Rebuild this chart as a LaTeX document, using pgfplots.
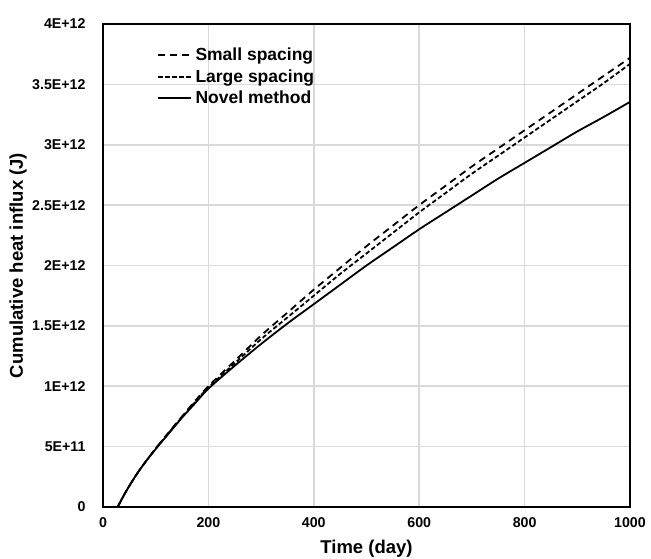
\documentclass[border=0pt]{standalone}
\usepackage{pgfplots}
\pgfplotsset{compat=1.18}
\usepackage{fontspec}
\setmainfont{Liberation Sans}

\definecolor{gridgray}{RGB}{217,217,217}

\begin{document}
\begin{tikzpicture}[x=1pt,y=1pt]
\path[use as bounding box] (0,0) rectangle (651,559);
\begin{axis}[
  at={(103pt,52pt)}, anchor=south west,
  scale only axis, width=527pt, height=483pt,
  xmin=0, xmax=1000, ymin=0, ymax=4e12,
  xtick={0,200,400,600,800,1000},
  xticklabels={0,200,400,600,800,1000},
  ytick={0,0.5e12,1e12,1.5e12,2e12,2.5e12,3e12,3.5e12,4e12},
  yticklabels={0,5E+11,1E+12,1.5E+12,2E+12,2.5E+12,3E+12,3.5E+12,4E+12},
  scaled ticks=false,
  major tick length=0pt,
  xmajorgrids, ymajorgrids,
  grid style={gridgray, line width=1.6pt},
  axis line style={black, line width=1.8pt},
  ticklabel style={font=\bfseries\fontsize{14.2}{16}\selectfont},
  xticklabel style={yshift=-7pt},
  yticklabel style={xshift=-14pt},
  xlabel={\bfseries Time (day)},
  ylabel={\bfseries Cumulative heat influx (J)},
  label style={font=\bfseries\fontsize{18.5}{20}\selectfont},
  xlabel style={at={(axis description cs:0.5,-0.087)}, anchor=center},
  ylabel style={at={(axis description cs:-0.161,0.5)}, anchor=center},
  legend cell align=left,
  legend style={draw=none, fill=none, at={(0.1025,0.951)}, anchor=north west,
    font=\bfseries\fontsize{17.5}{19}\selectfont, row sep=7.5pt,
    inner sep=0pt, nodes={inner sep=0pt, outer sep=0pt}},
  legend image code/.code={\draw[#1] (0pt,0pt) -- (33pt,0pt); \path (36.5pt,0pt);},
  every axis plot/.append style={black, line width=1.8pt, smooth},
]
% small grid spacing
\addplot[dash pattern=on 7pt off 5pt] coordinates {
(28,0) (32,0.035e12) (40,0.10e12) (50,0.175e12) (60,0.245e12) (70,0.31e12)
(80,0.37e12) (100,0.485e12) (125,0.62e12) (150,0.75e12) (175,0.88e12)
(200,1.00e12) (250,1.21e12) (300,1.42e12) (350,1.61e12) (400,1.80e12)
(450,1.98e12) (500,2.16e12) (550,2.33e12) (600,2.50e12) (650,2.66e12)
(700,2.82e12) (750,2.97e12) (800,3.12e12) (850,3.27e12) (900,3.42e12)
(950,3.57e12) (1000,3.72e12)
};
\addlegendentry{Small spacing}
% large grid spacing
\addplot[dash pattern=on 4.5pt off 2.5pt] coordinates {
(28,0) (32,0.035e12) (40,0.10e12) (50,0.175e12) (60,0.245e12) (70,0.31e12)
(80,0.37e12) (100,0.483e12) (125,0.615e12) (150,0.745e12) (175,0.87e12)
(200,0.99e12) (250,1.19e12) (300,1.39e12) (350,1.57e12) (400,1.75e12)
(450,1.93e12) (500,2.10e12) (550,2.27e12) (600,2.44e12) (650,2.60e12)
(700,2.76e12) (750,2.91e12) (800,3.06e12) (850,3.21e12) (900,3.36e12)
(950,3.51e12) (1000,3.67e12)
};
\addlegendentry{Large spacing}
% novel method
\addplot[solid] coordinates {
(28,0) (32,0.035e12) (40,0.10e12) (50,0.175e12) (60,0.245e12) (70,0.31e12)
(80,0.37e12) (100,0.48e12) (125,0.61e12) (150,0.74e12) (175,0.86e12)
(200,0.98e12) (250,1.17e12) (300,1.35e12) (350,1.52e12) (400,1.68e12)
(450,1.84e12) (500,2.00e12) (550,2.15e12) (600,2.30e12) (650,2.44e12)
(700,2.58e12) (750,2.72e12) (800,2.85e12) (850,2.98e12) (900,3.11e12)
(950,3.23e12) (1000,3.355e12)
};
\addlegendentry{Novel method}
\end{axis}
\end{tikzpicture}
\end{document}
